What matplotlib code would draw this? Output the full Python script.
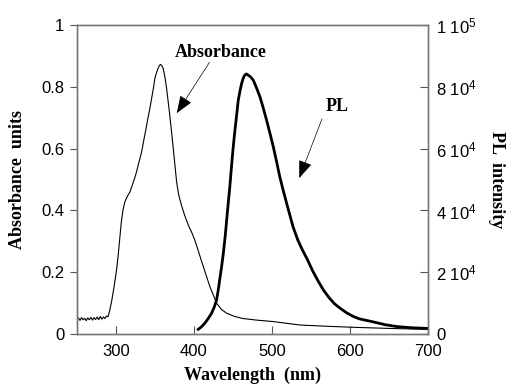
import matplotlib
matplotlib.use("Agg")
import matplotlib.pyplot as plt

plt.rcParams['font.family'] = ['Liberation Sans', 'DejaVu Sans']
plt.rcParams['mathtext.fontset'] = 'custom'
plt.rcParams['mathtext.rm'] = 'Liberation Sans'
plt.rcParams['mathtext.default'] = 'rm'

# Absorbance spectrum (left axis)
abs_wl = [250, 252, 254, 256, 258, 260, 262, 264, 266, 268, 270, 272, 274, 276, 278,
          280, 282, 284, 286, 288, 290, 292, 294.5, 296.5, 298.7, 301, 303, 305, 307,
          309, 311.5, 314.5, 318, 321, 324, 326.5, 328.6, 331, 333, 335, 337, 339, 341,
          343.5, 345.8, 348, 350, 352, 354, 355.5, 357, 358.8, 360.6, 362.8, 365, 367,
          369, 371.3, 373.5, 375.7, 377.8, 380.5, 384, 388, 392.7, 397, 401, 405.5,
          410, 415, 420.5, 425, 429, 435, 442, 452, 463, 480, 502, 536, 570, 600, 650, 700]
abs_val = [0.045, 0.052, 0.044, 0.053, 0.046, 0.051, 0.043, 0.052, 0.046, 0.054, 0.045, 0.053,
           0.047, 0.055, 0.046, 0.057, 0.048, 0.055, 0.05, 0.058, 0.056, 0.075, 0.105, 0.135,
           0.17, 0.21, 0.256, 0.31, 0.363, 0.40, 0.428, 0.445, 0.46, 0.482, 0.504, 0.525,
           0.547, 0.57, 0.59, 0.617, 0.644, 0.67, 0.698, 0.73, 0.763, 0.795, 0.828, 0.846,
           0.86, 0.868, 0.873, 0.869, 0.86, 0.832, 0.795, 0.752, 0.709, 0.655, 0.601, 0.546,
           0.493, 0.45, 0.417, 0.385, 0.353, 0.33, 0.305, 0.27, 0.234, 0.195, 0.153, 0.125,
           0.1, 0.08, 0.067, 0.057, 0.05, 0.045, 0.04, 0.029, 0.025, 0.022, 0.018, 0.015]

# PL spectrum (right axis)
pl_wl = [405.5, 410, 414, 418, 422.6, 426, 429, 431, 433, 435.3, 437.6, 440, 442, 444,
         446, 447.8, 449.6, 451.3, 453, 455, 456.8, 459, 461, 463, 465, 467.3, 469.6,
         472.8, 476, 480, 484.6, 488.8, 493, 497.4, 501.7, 506, 510, 514.4, 518.8, 523,
         527, 533, 539, 545, 552, 559, 566, 573, 580, 588, 596, 604, 612, 621,
         630, 645, 660, 680, 700]
pl_val = [0.015, 0.024, 0.035, 0.049, 0.067, 0.087, 0.11, 0.14, 0.175, 0.215, 0.26, 0.315,
          0.37, 0.425, 0.477, 0.532, 0.585, 0.63, 0.67, 0.715, 0.757, 0.787, 0.81, 0.827,
          0.838, 0.842, 0.838, 0.832, 0.822, 0.798, 0.768, 0.732, 0.693, 0.65, 0.606, 0.557,
          0.509, 0.465, 0.423, 0.384, 0.347, 0.305, 0.272, 0.243, 0.205, 0.172, 0.142,
          0.118, 0.098, 0.082, 0.068, 0.057, 0.049, 0.044, 0.039, 0.03, 0.024, 0.02, 0.018]
pl_scale = 100000

x_ticks = [300, 400, 500, 600, 700]
left_ticks = [0, 0.2, 0.4, 0.6, 0.8, 1]
left_labels = ['0', '0.2', '0.4', '0.6', '0.8', '1']
right_ticks = [0, 20000, 40000, 60000, 80000, 100000]
right_labels = ['0', '2 10$^4$', '4 10$^4$', '6 10$^4$', '8 10$^4$', '1 10$^5$']

fig = plt.figure(figsize=(5.09, 3.87), dpi=100)
ax = fig.add_axes([0.151, 0.137, 0.690, 0.798])
ax2 = ax.twinx()

ax.plot(abs_wl, abs_val, color='black', lw=0.8)
ax2.plot(pl_wl, [v * pl_scale for v in pl_val], color='black', lw=2.0,
         solid_joinstyle='round')

ax.set_xlim(250, 700)
ax.set_ylim(0, 1)
ax2.set_ylim(0, 100000)

spine_c = '#777777'
for a in (ax, ax2):
    for s in a.spines.values():
        s.set_color(spine_c)
        s.set_linewidth(1.0)

ax.set_xticks(x_ticks)
ax.set_xticklabels([str(v) for v in x_ticks])
ax.set_yticks(left_ticks)
ax.set_yticklabels(left_labels)
ax2.set_yticks(right_ticks)
ax2.set_yticklabels(right_labels)

ax.tick_params(axis='x', direction='in', length=6, width=0.8, color='#555555',
               labelsize=12, pad=7, top=False)
ax.tick_params(axis='y', direction='out', length=5, width=0.8, color='#555555',
               labelsize=12, pad=4)
ax2.tick_params(axis='y', direction='in', length=6, width=0.8, color='#555555',
                labelsize=12, pad=6)

serif = ['Liberation Serif', 'DejaVu Serif']
ax.set_xlabel('Wavelength  (nm)', family=serif, fontweight='bold', fontsize=13, labelpad=6)
ax.set_ylabel('Absorbance  units', family=serif, fontweight='bold', fontsize=13, labelpad=11)
ax2.set_ylabel('PL  intensity', family=serif, fontweight='bold', fontsize=13,
               rotation=270, labelpad=20)

arrow = dict(arrowstyle='-|>,head_length=1.1,head_width=0.42', color='black',
             lw=0.5, mutation_scale=10, shrinkA=0, shrinkB=0)
ax.annotate('', xy=(378, 0.715), xytext=(420, 0.88), arrowprops=arrow)
ax.text(434, 0.913, 'Absorbance', family=serif, fontweight='bold', fontsize=13,
        ha='center', va='center')
ax.annotate('', xy=(535, 0.505), xytext=(564, 0.696), arrowprops=arrow)
ax.text(583, 0.735, 'PL', family=serif, fontweight='bold', fontsize=13,
        ha='center', va='center')

fig.savefig('out.png', dpi=100)
